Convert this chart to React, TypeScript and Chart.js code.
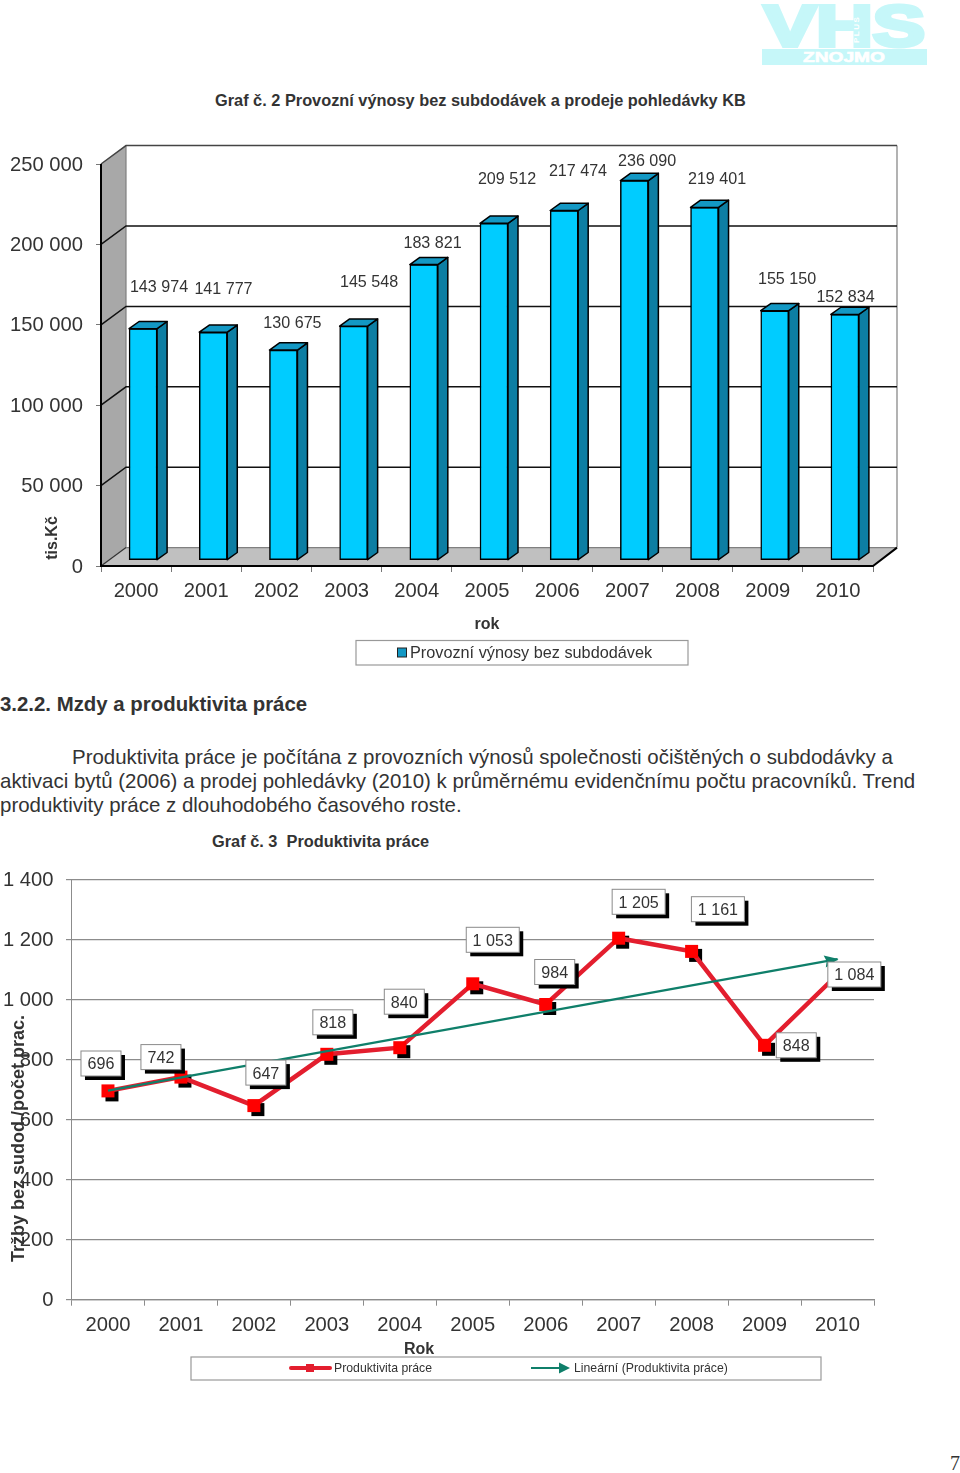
import React, { useEffect, useRef } from "react";
import { Chart, registerables } from "chart.js";

Chart.register(...registerables);

const years = ["2000", "2001", "2002", "2003", "2004", "2005", "2006", "2007", "2008", "2009", "2010"];
const revenue = [143974, 141777, 130675, 145548, 183821, 209512, 217474, 236090, 219401, 155150, 152834];
const revenueLabelOffsets = [[22.9, -46.7], [17.2, -48.7], [16, -32.6], [22.4, -49.7], [15.7, -27.1], [20, -49.3], [20.8, -45], [19.7, -24.6], [19.5, -33.9], [19.3, -37.2], [7.6, -22.9]];
const productivity = [696, 742, 647, 818, 840, 1053, 984, 1205, 1161, 848, 1084];
const trendEnds = [697, null, null, null, null, null, null, null, null, null, 1135];
const productivityLabelOffsets = [[-7, -27.4], [-20, -20], [12, -33], [6, -32], [4.5, -46], [20, -44], [9, -32.5], [20, -36.4], [26.3, -42.2], [31.7, 0], [16.8, 0]];

const SANS = '"Liberation Sans", Arial, sans-serif';
const INK = "#333333";
const spaced = (v: number) => String(v).replace(/\B(?=(\d{3})+(?!\d))/g, " ");

function text(ctx: any, s: string, x: number, y: number, font: string, align = "center", rot = 0) {
  ctx.save();
  ctx.translate(x, y);
  if (rot) ctx.rotate(rot);
  ctx.font = font;
  ctx.fillStyle = INK;
  ctx.textAlign = align;
  ctx.textBaseline = "middle";
  ctx.fillText(s, 0, 0);
  ctx.restore();
}

const DX = 25;
const DY = 18.4;
const BAR_DX = 7;
const BAR_DY = -5.8;
const SIDE_DX = 10;
const SIDE_DY = -7.2;

const wallsPlugin = {
  id: "walls",
  beforeDatasetsDraw(chart: any) {
    const { ctx, chartArea: a, scales } = chart;
    const y = scales.y;
    ctx.save();
    ctx.fillStyle = "#a8a8a8";
    ctx.beginPath();
    ctx.moveTo(a.left, a.top);
    ctx.lineTo(a.left + DX, a.top - DY);
    ctx.lineTo(a.left + DX, a.bottom - DY);
    ctx.lineTo(a.left, a.bottom);
    ctx.closePath();
    ctx.fill();
    ctx.fillStyle = "#c0c0c0";
    ctx.beginPath();
    ctx.moveTo(a.left, a.bottom);
    ctx.lineTo(a.left + DX, a.bottom - DY);
    ctx.lineTo(a.right + DX - 1, a.bottom - DY);
    ctx.lineTo(a.right, a.bottom);
    ctx.closePath();
    ctx.fill();
    ctx.strokeStyle = "#808080";
    ctx.lineWidth = 1.2;
    ctx.beginPath();
    ctx.moveTo(a.left + DX, a.top - DY);
    ctx.lineTo(a.left + DX, a.bottom - DY);
    ctx.lineTo(a.right + DX - 1, a.bottom - DY);
    ctx.moveTo(a.right + DX - 1, a.top - DY);
    ctx.lineTo(a.right + DX - 1, a.bottom - DY);
    ctx.stroke();
    ctx.lineWidth = 1.5;
    y.ticks.forEach((t: any) => {
      if (t.value === 0) return;
      const py = y.getPixelForValue(t.value);
      ctx.strokeStyle = t.value === y.max ? "#444" : "#111";
      ctx.beginPath();
      ctx.moveTo(a.left, py);
      ctx.lineTo(a.left + DX, py - DY);
      ctx.lineTo(a.right + DX - 1, py - DY);
      ctx.stroke();
    });
    ctx.strokeStyle = "#333";
    ctx.lineWidth = 1.2;
    ctx.beginPath();
    ctx.moveTo(a.left, a.bottom);
    ctx.lineTo(a.left + DX, a.bottom - DY);
    ctx.stroke();
    ctx.strokeStyle = "#000";
    ctx.lineWidth = 2;
    ctx.beginPath();
    ctx.moveTo(a.left, a.top);
    ctx.lineTo(a.left, a.bottom);
    ctx.lineTo(a.right, a.bottom);
    ctx.lineTo(a.right + DX - 1, a.bottom - DY);
    ctx.stroke();
    ctx.restore();
  },
  beforeDatasetDraw(chart: any) {
    chart.ctx.save();
    chart.ctx.translate(BAR_DX, BAR_DY);
  },
  afterDatasetDraw(chart: any, args: any) {
    const { ctx } = chart;
    args.meta.data.forEach((bar: any) => {
      const { x, y, base, width } = bar.getProps(["x", "y", "base", "width"], true);
      const l = x - width / 2;
      const r = x + width / 2;
      ctx.lineWidth = 1.5;
      ctx.strokeStyle = "#000";
      ctx.lineJoin = "round";
      ctx.fillStyle = "#0d7ea3";
      ctx.beginPath();
      ctx.moveTo(r, y);
      ctx.lineTo(r + SIDE_DX, y + SIDE_DY);
      ctx.lineTo(r + SIDE_DX, base + SIDE_DY);
      ctx.lineTo(r, base);
      ctx.closePath();
      ctx.fill();
      ctx.stroke();
      ctx.fillStyle = "#1398c4";
      ctx.beginPath();
      ctx.moveTo(l, y);
      ctx.lineTo(l + SIDE_DX, y + SIDE_DY);
      ctx.lineTo(r + SIDE_DX, y + SIDE_DY);
      ctx.lineTo(r, y);
      ctx.closePath();
      ctx.fill();
      ctx.stroke();
    });
    ctx.restore();
  },
  afterDatasetsDraw(chart: any) {
    const { ctx, chartArea: a, scales } = chart;
    const meta = chart.getDatasetMeta(0);
    meta.data.forEach((bar: any, i: number) => {
      const [ox, oy] = revenueLabelOffsets[i];
      text(ctx, spaced(revenue[i]), scales.x.getPixelForValue(i) + ox, scales.y.getPixelForValue(revenue[i]) + oy, `16.1px ${SANS}`);
    });
    text(ctx, "tis.Kč", 53, 408, `bold 16px ${SANS}`, "center", -Math.PI / 2);
    text(ctx, "rok", (a.left + a.right) / 2, 495, `bold 16px ${SANS}`);
    // legend
    const label = chart.data.datasets[0].label;
    ctx.save();
    ctx.fillStyle = "#fff";
    ctx.strokeStyle = "#999";
    ctx.lineWidth = 1.2;
    ctx.fillRect(356, 510.5, 332, 24.5);
    ctx.strokeRect(356, 510.5, 332, 24.5);
    ctx.fillStyle = "#1398c4";
    ctx.strokeStyle = "#222";
    ctx.lineWidth = 1;
    ctx.fillRect(397.5, 518, 9, 9);
    ctx.strokeRect(397.5, 518, 9, 9);
    ctx.restore();
    text(ctx, label, 410, 523.5, `16.25px ${SANS}`, "left");
  },
};

const BOX_H = 25;
const TOP2 = 20;
const boxesPlugin = {
  id: "boxes",
  beforeDatasetDraw(chart: any, args: any) {
    if (args.index !== 0) return;
    const { ctx } = chart;
    ctx.save();
    ctx.fillStyle = "#000";
    args.meta.data.forEach((p: any) => ctx.fillRect(p.x - 6.5 + 4, p.y - 6.5 + 4, 13, 13));
    ctx.restore();
  },
  afterDatasetDraw(chart: any, args: any) {
    if (args.index !== 1) return;
    const { ctx } = chart;
    const pts = args.meta.data;
    const a = pts[0];
    const b = pts[pts.length - 1];
    const ang = Math.atan2(b.y - a.y, b.x - a.x);
    ctx.save();
    ctx.translate(b.x, b.y);
    ctx.rotate(ang);
    ctx.fillStyle = "#0f7f6a";
    ctx.beginPath();
    ctx.moveTo(1, 0);
    ctx.lineTo(-13, -6);
    ctx.lineTo(-11, 0);
    ctx.lineTo(-13, 6);
    ctx.closePath();
    ctx.fill();
    ctx.restore();
  },
  afterDatasetsDraw(chart: any) {
    const { ctx, scales } = chart;
    const font = `16.1px ${SANS}`;
    productivity.forEach((v, i) => {
      const [ox, oy] = productivityLabelOffsets[i];
      const s = spaced(v);
      const cx = scales.x.getPixelForValue(i) + ox;
      const cy = scales.y.getPixelForValue(v) + oy;
      const w = v >= 1000 ? 53 : 40;
      ctx.fillStyle = "#000";
      ctx.fillRect(cx - w / 2 + 4, cy - BOX_H / 2 + 4, w, BOX_H);
      ctx.fillStyle = "#fff";
      ctx.fillRect(cx - w / 2, cy - BOX_H / 2, w, BOX_H);
      ctx.strokeStyle = "#8a8a8a";
      ctx.lineWidth = 1;
      ctx.strokeRect(cx - w / 2, cy - BOX_H / 2, w, BOX_H);
      text(ctx, s, cx, cy + 1.5, font);
    });
    text(ctx, "Tržby bez sudod./počet prac.", 19.5, 278.5 + TOP2, `bold 18px ${SANS}`, "center", -Math.PI / 2);
    text(ctx, "Rok", 419, 489.5 + TOP2, `bold 16px ${SANS}`);
    // legend
    const [red, green] = chart.data.datasets;
    const my = 508 + TOP2;
    ctx.save();
    ctx.fillStyle = "#fff";
    ctx.strokeStyle = "#999";
    ctx.lineWidth = 1.2;
    ctx.fillRect(191, 497 + TOP2, 630, 23);
    ctx.strokeRect(191, 497 + TOP2, 630, 23);
    ctx.strokeStyle = red.borderColor;
    ctx.lineWidth = 4;
    ctx.lineCap = "round";
    ctx.beginPath();
    ctx.moveTo(291, my);
    ctx.lineTo(330, my);
    ctx.stroke();
    ctx.fillStyle = red.borderColor;
    ctx.fillRect(306, my - 4, 8, 8);
    ctx.strokeStyle = green.borderColor;
    ctx.lineWidth = 2;
    ctx.lineCap = "butt";
    ctx.beginPath();
    ctx.moveTo(531, my);
    ctx.lineTo(562, my);
    ctx.stroke();
    ctx.fillStyle = green.borderColor;
    ctx.beginPath();
    ctx.moveTo(570, my);
    ctx.lineTo(559, my - 5.5);
    ctx.lineTo(559, my + 5.5);
    ctx.closePath();
    ctx.fill();
    ctx.restore();
    text(ctx, red.label, 334, my + 1, `12.25px ${SANS}`, "left");
    text(ctx, green.label, 574, my + 1, `12.25px ${SANS}`, "left");
  },
};

function fixWidth(w: number) {
  return (s: any) => {
    s.width = w;
  };
}
function fixHeight(h: number) {
  return (s: any) => {
    s.height = h;
  };
}

function RevenueChart() {
  const ref = useRef<HTMLCanvasElement>(null);
  useEffect(() => {
    const chart = new Chart(ref.current as any, {
      type: "bar",
      data: {
        labels: years,
        datasets: [
          {
            label: "Provozní výnosy bez subdodávek",
            data: revenue,
            backgroundColor: "#00ccff",
            borderColor: "#000",
            borderWidth: 1.5,
            borderSkipped: false,
            barThickness: 28,
            clip: false,
          } as any,
        ],
      },
      plugins: [wallsPlugin as any],
      options: {
        responsive: false,
        animation: false,
        devicePixelRatio: 1,
        layout: { padding: { left: 0, right: 87, top: 34, bottom: 0 } },
        plugins: { legend: { display: false }, title: { display: false }, tooltip: { enabled: false } },
        scales: {
          x: {
            afterFit: fixHeight(104),
            border: { display: false },
            grid: { offset: true, drawOnChartArea: false, tickLength: 6, tickColor: "#777", lineWidth: 1 },
            ticks: { color: INK, font: { family: SANS, size: 20.2 }, padding: 7, maxRotation: 0, autoSkip: false },
          },
          y: {
            min: 0,
            max: 250000,
            afterFit: fixWidth(101),
            border: { display: false },
            grid: { drawOnChartArea: false, tickLength: 5, tickColor: "#777", lineWidth: 1 },
            ticks: { stepSize: 50000, color: INK, font: { family: SANS, size: 20.2 }, padding: 13, labelOffset: 1, callback: (v: any) => spaced(v) },
          },
        },
      } as any,
    });
    return () => chart.destroy();
  }, []);
  return <canvas ref={ref} width={960} height={540} style={{ position: "absolute", left: 0, top: 130, width: 960, height: 540 }} />;
}

function ProductivityChart() {
  const ref = useRef<HTMLCanvasElement>(null);
  useEffect(() => {
    const chart = new Chart(ref.current as any, {
      type: "line",
      data: {
        labels: years,
        datasets: [
          {
            label: "Produktivita práce",
            data: productivity,
            borderColor: "#e31e2e",
            borderWidth: 4.5,
            pointStyle: "rect",
            pointRadius: 6.5 * Math.SQRT2,
            pointBackgroundColor: "#ff0000",
            pointBorderWidth: 0,
            tension: 0,
            order: 1,
            clip: false,
          } as any,
          {
            label: "Lineární (Produktivita práce)",
            data: trendEnds,
            borderColor: "#0f7f6a",
            borderWidth: 2.2,
            pointRadius: 0,
            spanGaps: true,
            tension: 0,
            order: 0,
            clip: false,
          } as any,
        ],
      },
      plugins: [boxesPlugin as any],
      options: {
        responsive: false,
        animation: false,
        devicePixelRatio: 1,
        layout: { padding: { left: 0, right: 86, top: 19.7 + TOP2, bottom: 0 } },
        plugins: { legend: { display: false }, title: { display: false }, tooltip: { enabled: false } },
        scales: {
          x: {
            offset: true,
            afterFit: fixHeight(100.3),
            border: { display: true, color: "#8c8c8c", width: 1.2 },
            grid: { offset: true, drawOnChartArea: false, tickLength: 6, tickColor: "#8c8c8c", lineWidth: 1 },
            ticks: { color: INK, font: { family: SANS, size: 20.2 }, padding: 8, maxRotation: 0, autoSkip: false },
          },
          y: {
            min: 0,
            max: 1400,
            afterFit: fixWidth(71.5),
            border: { display: true, color: "#8c8c8c", width: 1 },
            grid: { color: "#8c8c8c", lineWidth: 1.2, tickLength: 5.5, tickColor: "#8c8c8c" },
            ticks: { stepSize: 200, color: INK, font: { family: SANS, size: 20.2 }, padding: 12.5, labelOffset: 1, callback: (v: any) => spaced(v) },
          },
        },
      } as any,
    });
    return () => chart.destroy();
  }, []);
  return <canvas ref={ref} width={960} height={560} style={{ position: "absolute", left: 0, top: 840, width: 960, height: 560 }} />;
}

function Line({ x, y, size, bold, children }: any) {
  return (
    <div
      style={{
        position: "absolute",
        left: x,
        top: y - 15,
        height: 30,
        lineHeight: "30px",
        fontFamily: SANS,
        fontSize: size,
        fontWeight: bold ? 700 : 400,
        color: INK,
        whiteSpace: "pre",
      }}
    >
      {children}
    </div>
  );
}

function Logo() {
  const c = "#c6f7f9";
  return (
    <svg width={170} height={66} style={{ position: "absolute", left: 760, top: 2 }}>
      <text x={4} y={44} fontFamily={SANS} fontWeight={700} fontSize={58} fill={c} stroke={c} strokeWidth={4} textLength={161} lengthAdjust="spacingAndGlyphs">VHS</text>
      <rect x={2} y={47} width={165} height={16} fill={c} />
      <text x={43} y={60} fontFamily={SANS} fontWeight={700} fontSize={14} fill="#fff" stroke="#fff" strokeWidth={0.6} textLength={82} lengthAdjust="spacingAndGlyphs">ZNOJMO</text>
      <text transform="translate(99 41) rotate(-90)" fontFamily={SANS} fontWeight={700} fontSize={8} fill="#fff" letterSpacing={1.5}>PLUS</text>
    </svg>
  );
}

export default function App() {
  return (
    <div style={{ position: "absolute", left: 0, top: 0, width: 960, height: 1473, overflow: "hidden", background: "#fff" }}>
      <Logo />
      <Line x={215} y={100} size={16.33} bold>Graf č. 2 Provozní výnosy bez subdodávek a prodeje pohledávky KB</Line>
      <RevenueChart />
      <Line x={0} y={704} size={20.4} bold>3.2.2. Mzdy a produktivita práce</Line>
      <Line x={72} y={757} size={20.47}>Produktivita práce je počítána z provozních výnosů společnosti očištěných o subdodávky a</Line>
      <Line x={0} y={781} size={20.47}>aktivaci bytů (2006) a prodej pohledávky (2010) k průměrnému evidenčnímu počtu pracovníků. Trend</Line>
      <Line x={0} y={805} size={20.47}>produktivity práce z dlouhodobého časového roste.</Line>
      <Line x={212} y={841} size={16.35} bold>Graf č. 3  Produktivita práce</Line>
      <ProductivityChart />
      <div style={{ position: "absolute", left: 950, top: 1452, fontFamily: '"Liberation Serif", serif', fontSize: 20, color: INK }}>7</div>
    </div>
  );
}
